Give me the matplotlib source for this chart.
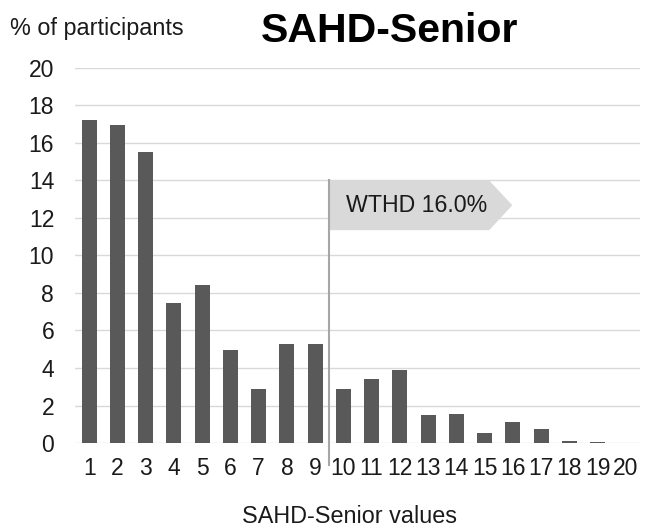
import matplotlib.pyplot as plt
from matplotlib.patches import Polygon

# Values
scores = list(range(1, 21))
percent = [17.2, 16.95, 15.5, 7.45, 8.4, 4.95, 2.9, 5.3, 5.3, 2.9,
           3.4, 3.9, 1.5, 1.55, 0.55, 1.1, 0.75, 0.1, 0.03, 0.0]
threshold_pos = 9.5
threshold_label = "WTHD 16.0%"

plt.rcParams["font.family"] = ["Liberation Sans", "DejaVu Sans"]

fig = plt.figure(figsize=(6.5, 5.31), dpi=100)
ax = fig.add_axes([0.1154, 0.1657, 0.8692, 0.7063])

ax.bar(scores, percent, width=0.53, color="#595959", zorder=3)

ax.set_xlim(0.5, 20.5)
ax.set_ylim(0, 20)
ax.set_yticks(range(0, 21, 2))
ax.set_xticks(scores)
ax.tick_params(axis="both", length=0, labelsize=16.5, colors="#1a1a1a")
ax.tick_params(axis="y", pad=15)
ax.tick_params(axis="x", pad=10)
ax.grid(axis="y", color="#d9d9d9", linewidth=1.0, zorder=0)
for s in ax.spines.values():
    s.set_visible(False)

# threshold line and flag
ax.plot([threshold_pos, threshold_pos], [-1.15, 14.0], color="#a6a6a6",
        linewidth=1.5, zorder=4, clip_on=False)
flag = Polygon([(threshold_pos, 14.0), (15.16, 14.0), (15.98, 12.68),
                (15.16, 11.35), (threshold_pos, 11.35)],
               closed=True, facecolor="#d9d9d9", edgecolor="none", zorder=2)
ax.add_patch(flag)
ax.text(10.1, 12.68, threshold_label, fontsize=16.7, va="center", ha="left",
        color="#1a1a1a", zorder=5)

fig.text(0.015, 0.947, "% of participants", fontsize=16.8, ha="left",
         va="center", color="#1a1a1a")
fig.text(0.6, 0.942, "SAHD-Senior", fontsize=29.5, fontweight="bold",
         ha="center", va="center", color="black")
fig.text(0.538, 0.028, "SAHD-Senior values", fontsize=16.8, ha="center",
         va="center", color="#1a1a1a")

plt.savefig("out.png", dpi=100)
